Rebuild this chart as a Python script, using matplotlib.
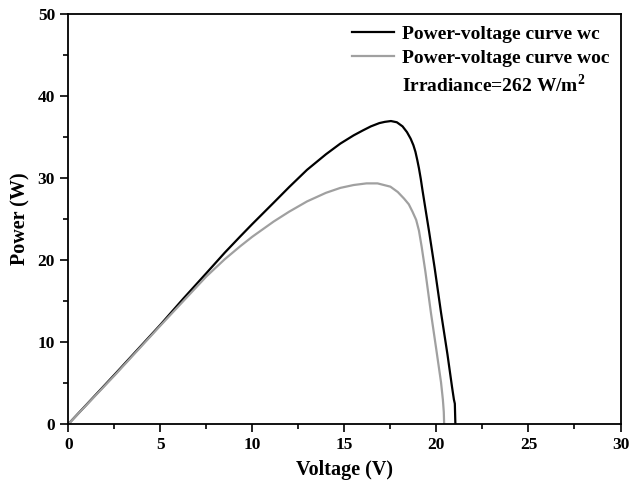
import matplotlib
matplotlib.use('Agg')
import matplotlib.pyplot as plt
from matplotlib.lines import Line2D

# power-voltage curve, with cooling (wc)
v_wc = [0, 2.5, 5, 6.25, 7.5, 8.5, 9.35, 10, 11.16, 12.0, 12.97, 14.0, 14.78, 15.5, 16.0, 16.44, 16.9,
        17.2, 17.53, 17.85, 18.16, 18.4, 18.6, 18.75, 18.86, 18.96, 19.05, 19.15, 19.23,
        19.4, 19.6, 19.9, 20.25, 20.6, 20.85, 20.95, 21.0, 21.03]
p_wc = [0, 6.0, 12.1, 15.3, 18.4, 20.9, 22.9, 24.4, 27.0, 28.9, 31.0, 32.9, 34.2, 35.2, 35.8, 36.3, 36.7,
        36.85, 36.95, 36.8, 36.3, 35.6, 34.8, 34.0, 33.2, 32.2, 31.2, 29.9, 28.7,
        26.3, 23.5, 19.1, 13.6, 8.5, 4.5, 3.0, 2.5, 0]

# power-voltage curve, without cooling (woc)
v_woc = [0, 2.5, 5, 6.25, 7.5, 8.5, 9.35, 10, 11.16, 12.0, 12.97, 14.0, 14.78, 15.5, 16.2, 16.8, 17.5,
         17.9, 18.24, 18.5, 18.7, 18.9, 19.05, 19.2, 19.4, 19.7, 20.0, 20.25, 20.35, 20.4, 20.42]
p_woc = [0, 5.9, 12.0, 15.0, 18.0, 20.1, 21.7, 22.85, 24.7, 25.9, 27.15, 28.2, 28.8, 29.15, 29.35, 29.35, 28.95,
         28.3, 27.5, 26.8, 25.9, 24.9, 23.6, 21.6, 18.6, 13.6, 9.0, 5.1, 3.0, 1.5, 0]

legend_labels = ['Power-voltage curve wc', 'Power-voltage curve woc', 'Irradiance=262 W/m$^\\mathbf{2}$']

plt.rcParams['font.family'] = 'Liberation Serif'
plt.rcParams['font.weight'] = 'bold'
plt.rcParams['mathtext.fontset'] = 'custom'
plt.rcParams['mathtext.bf'] = 'Liberation Serif:bold'
plt.rcParams['mathtext.rm'] = 'Liberation Serif:bold'

fig = plt.figure(figsize=(6.29, 4.82), dpi=100)
ax = fig.add_axes([0.1085, 0.120, 0.878, 0.851])

ax.plot(v_wc, p_wc, color='black', lw=1.6)
ax.plot(v_woc, p_woc, color='#a0a0a0', lw=1.6)

ax.set_xlim(0, 30)
ax.set_ylim(0, 50)
ax.set_xticks(range(0, 31, 5))
ax.set_yticks(range(0, 51, 10))
ax.set_xticks([2.5 + 5 * i for i in range(6)], minor=True)
ax.set_yticks([5 + 10 * i for i in range(5)], minor=True)
ax.tick_params(which='major', direction='out', length=6, width=1.2, labelsize=12.5, top=False, right=False)
ax.tick_params(which='minor', direction='out', length=3.5, width=1.2, top=False, right=False)
for s in ax.spines.values():
    s.set_linewidth(1.3)

ax.set_xlabel('Voltage (V)', fontsize=14.5, fontweight='bold', labelpad=5)
ax.set_ylabel('Power (W)', fontsize=14.5, fontweight='bold', labelpad=5)

handles = [Line2D([], [], color='black', lw=1.6),
           Line2D([], [], color='#a0a0a0', lw=1.6),
           Line2D([], [], color='none')]
ax.legend(handles, legend_labels, loc='upper right', frameon=False, fontsize=14,
          handlelength=2.2, handletextpad=0.4, labelspacing=0.33,
          bbox_to_anchor=(1.012, 1.015))

fig.savefig('out.png', dpi=100)
